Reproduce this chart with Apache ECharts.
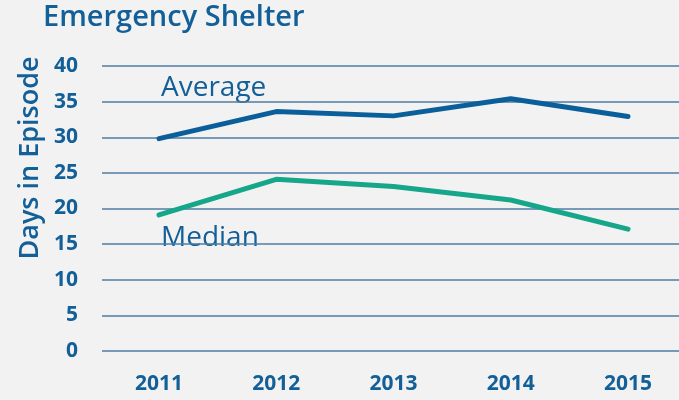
<!DOCTYPE html>
<html>
<head>
<meta charset="utf-8">
<script src="https://cdn.jsdelivr.net/npm/echarts@6/dist/echarts.min.js"></script>
<style>
  html, body { margin: 0; padding: 0; background: #f2f2f2; }
  #chart { width: 679px; height: 400px; }
</style>
</head>
<body>
<div id="chart"></div>
<script>
// data
var years = [2011, 2012, 2013, 2014, 2015];
var average = [29.8, 33.6, 33.0, 35.4, 32.9];
var median = [19.1, 24.1, 23.1, 21.2, 17.1];
var yearLabels = ['2011', '2012', '2013', '2014', '2015'];

var textColor = '#135f98';
var font = '"Open Sans", "Noto Sans", sans-serif';

function pairs(vals) {
  return years.map(function (y, i) { return [y, vals[i]]; });
}

var chart = echarts.init(document.getElementById('chart'));
chart.setOption({
  backgroundColor: '#f2f2f2',
  animation: false,
  title: {
    text: 'Emergency Shelter',
    left: 38,
    top: -2,
    textStyle: { color: textColor, fontFamily: font, fontWeight: 600, fontSize: 29 }
  },
  grid: { left: 102, right: 0, top: 66, bottom: 49 },
  xAxis: {
    type: 'value',
    min: 2010.514,
    max: 2015.435,
    axisLine: { show: false },
    axisTick: { show: false },
    splitLine: { show: false },
    axisLabel: {
      customValues: years,
      formatter: function (v) { return yearLabels[years.indexOf(v)] || ''; },
      margin: 23,
      color: textColor,
      fontFamily: font,
      fontWeight: 'bold',
      fontSize: 21
    }
  },
  yAxis: {
    type: 'value',
    min: 0,
    max: 40,
    interval: 5,
    axisLine: { show: false },
    axisTick: { show: false },
    splitLine: { lineStyle: { color: '#4d7ca3', width: 1.5 } },
    axisLabel: {
      margin: 24,
      color: textColor,
      fontFamily: font,
      fontWeight: 'bold',
      fontSize: 21
    }
  },
  graphic: [
    {
      type: 'text',
      x: 30,
      y: 158,
      rotation: Math.PI / 2,
      style: {
        text: 'Days in Episode',
        fill: textColor,
        font: '600 27px ' + font,
        align: 'center',
        verticalAlign: 'middle'
      }
    },
    {
      type: 'text',
      x: 161,
      y: 88,
      style: {
        text: 'Average',
        fill: textColor,
        font: '500 28px ' + font,
        align: 'left',
        verticalAlign: 'middle'
      }
    },
    {
      type: 'text',
      x: 161,
      y: 238,
      style: {
        text: 'Median',
        fill: textColor,
        font: '500 28px ' + font,
        align: 'left',
        verticalAlign: 'middle'
      }
    }
  ],
  series: [
    {
      name: 'Average',
      type: 'line',
      data: pairs(average),
      symbol: 'none',
      lineStyle: { color: '#0a5f9b', width: 5, cap: 'round', join: 'round' }
    },
    {
      name: 'Median',
      type: 'line',
      data: pairs(median),
      symbol: 'none',
      lineStyle: { color: '#16a68a', width: 5, cap: 'round', join: 'round' }
    }
  ]
});
</script>
</body>
</html>
